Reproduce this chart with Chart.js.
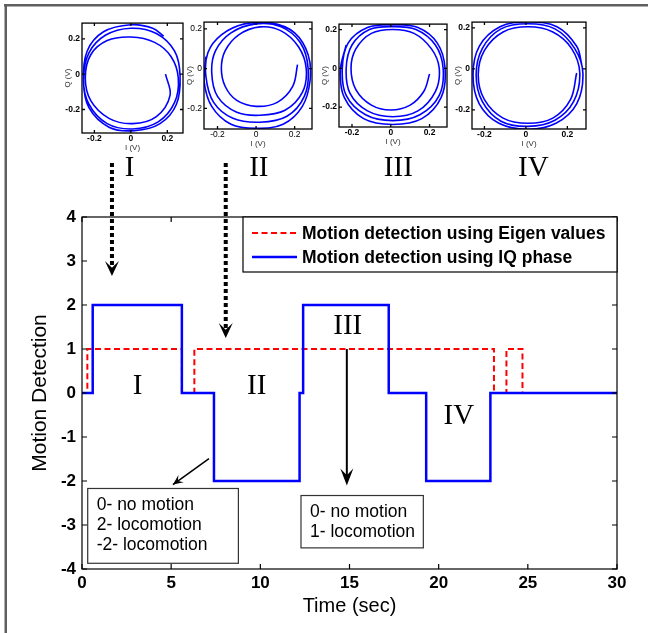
<!DOCTYPE html>
<html><head><meta charset="utf-8">
<script src="https://cdn.jsdelivr.net/npm/chart.js@4"></script>
<style>
html,body{margin:0;padding:0;background:#fff;}
#wrap{position:relative;width:648px;height:633px;overflow:hidden;background:#fff;}
#wrap canvas{position:absolute;}
</style></head><body>
<div id="wrap"><canvas id="main" width="648" height="633" style="left:0;top:0"></canvas></div>
<script>
Chart.defaults.font.family = '"Liberation Sans", Arial, Helvetica, sans-serif';
Chart.defaults.color = '#000';

// ---- main chart data ----
const timeTicks = [0, 5, 10, 15, 20, 25, 30];
const detectTicks = [-4, -3, -2, -1, 0, 1, 2, 3, 4];
const eigenTime  = [0, 0.3, 5.6, 6.3, 23.1, 23.8, 24.7, 30];
const eigenState = [0, 1,   0,   1,   0,    1,    0,    0];
const iqTime  = [0, 0.6, 5.6, 7.4, 12.2, 12.4, 17.2, 19.3, 22.9, 30];
const iqState = [0, 2,   0,  -2,   0,    2,    0,   -2,    0,    0];
const seriesNames = ['Motion detection using Eigen values', 'Motion detection using IQ phase'];
const stageNames = ['I', 'II', 'III', 'IV'];
const noteIQ = ['0- no motion', '2- locomotion', '-2- locomotion'];
const noteEigen = ['0- no motion', '1- locomotion'];

// ---- IQ constellation insets (I and Q in volts) ----
const iqAxisTicks = [-0.2, 0, 0.2];
const iRanges = [[-0.268, 0.286], [-0.27, 0.29], [-0.267, 0.29], [-0.26, 0.29]];
const qRanges = [[-0.333, 0.289], [-0.304, 0.234], [-0.303, 0.228], [-0.293, 0.228]];
const loopI1 = [0.19,0.215,0.14,0.01,-0.12,-0.22,-0.25,-0.22,-0.13,0.0,0.13,0.22,0.26,0.24,0.15,0.01,-0.13,-0.23,-0.26,-0.23,-0.14,0.0,0.14,0.24,0.27,0.25,0.16,0.02,-0.12,-0.23,-0.26,-0.24,-0.15,0.0,0.12,0.18];
const loopQ1 = [0.0,-0.12,-0.24,-0.28,-0.25,-0.15,-0.02,0.11,0.19,0.21,0.18,0.10,-0.02,-0.16,-0.27,-0.31,-0.28,-0.17,-0.03,0.12,0.22,0.26,0.23,0.13,-0.01,-0.17,-0.28,-0.32,-0.30,-0.19,-0.04,0.13,0.24,0.28,0.26,0.215];
const loopI2 = [0.215,0.19,0.11,0.0,-0.1,-0.16,-0.18,-0.16,-0.09,0.02,0.13,0.22,0.26,0.24,0.15,0.02,-0.1,-0.2,-0.23,-0.21,-0.13,0.0,0.13,0.23,0.27,0.25,0.16,0.02,-0.12,-0.22,-0.26,-0.25,-0.18,-0.06,0.08,0.2,0.27,0.28,0.24,0.14,0.0,-0.13,-0.23,-0.27,-0.26];
const loopQ2 = [0.02,-0.09,-0.17,-0.19,-0.16,-0.09,0.0,0.09,0.17,0.21,0.19,0.11,0.0,-0.12,-0.21,-0.235,-0.22,-0.14,-0.02,0.09,0.18,0.225,0.21,0.13,0.0,-0.14,-0.24,-0.27,-0.25,-0.17,-0.04,0.08,0.17,0.225,0.23,0.18,0.07,-0.06,-0.19,-0.28,-0.30,-0.28,-0.19,-0.06,0.06];
const loopI3 = [0.2,0.17,0.1,0.0,-0.1,-0.18,-0.205,-0.18,-0.1,0.01,0.12,0.21,0.25,0.23,0.14,0.01,-0.12,-0.21,-0.23,-0.2,-0.11,0.01,0.13,0.23,0.27,0.25,0.15,0.01,-0.13,-0.23,-0.25,-0.22,-0.12,0.01,0.14,0.24,0.28,0.26,0.16,0.01,-0.14,-0.24,-0.26,-0.23];
const loopQ3 = [-0.03,-0.12,-0.19,-0.215,-0.19,-0.11,0.0,0.1,0.18,0.2,0.18,0.1,0.0,-0.12,-0.22,-0.25,-0.22,-0.13,0.0,0.12,0.2,0.215,0.2,0.12,0.0,-0.14,-0.24,-0.27,-0.24,-0.14,0.0,0.13,0.21,0.225,0.21,0.13,0.0,-0.15,-0.26,-0.29,-0.26,-0.15,-0.01,0.12];
const loopI4 = [0.245,0.215,0.13,0.01,-0.11,-0.2,-0.23,-0.2,-0.11,0.01,0.13,0.22,0.26,0.23,0.14,0.01,-0.12,-0.21,-0.24,-0.21,-0.12,0.01,0.14,0.235,0.275,0.245,0.145,0.01,-0.13,-0.225,-0.255,-0.225,-0.125,0.01,0.15,0.245,0.27];
const loopQ4 = [-0.02,-0.15,-0.24,-0.265,-0.24,-0.15,-0.03,0.09,0.18,0.205,0.18,0.1,-0.02,-0.16,-0.25,-0.28,-0.255,-0.16,-0.03,0.1,0.195,0.22,0.195,0.1,-0.02,-0.17,-0.265,-0.295,-0.265,-0.17,-0.03,0.11,0.205,0.23,0.205,0.11,0.02];

const SANS = '"Liberation Sans", Arial, Helvetica, sans-serif';
const SERIF = '"Liberation Serif", "Times New Roman", Times, serif';

function arrowHead(c, x0, y0, x1, y1, len, half, notch) {
  const ang = Math.atan2(y1 - y0, x1 - x0), ca = Math.cos(ang), sa = Math.sin(ang);
  const bx = x1 - len * ca, by = y1 - len * sa;
  const nx = x1 - len * notch * ca, ny = y1 - len * notch * sa;
  c.beginPath();
  c.moveTo(x1, y1);
  c.lineTo(bx - half * sa, by + half * ca);
  c.lineTo(nx, ny);
  c.lineTo(bx + half * sa, by - half * ca);
  c.closePath();
  c.fill();
}

const figurePlugin = {
  id: 'figure',
  beforeDraw(chart) {
    const c = chart.ctx;
    c.save();
    c.fillStyle = '#fff';
    c.fillRect(0, 0, chart.width, chart.height);
    c.fillStyle = '#5f5f5f';
    c.fillRect(4, 4, chart.width - 4, 2.5);
    c.fillRect(4.5, 4, 2.5, chart.height - 4);
    c.restore();
  },
  afterDraw(chart) {
    const c = chart.ctx, a = chart.chartArea, xs = chart.scales.x, ys = chart.scales.y;
    const X = v => xs.getPixelForValue(v), Y = v => ys.getPixelForValue(v);
    c.save();
    // axes box + inward ticks
    c.strokeStyle = '#000'; c.lineWidth = 1.2;
    c.strokeRect(a.left, a.top, a.right - a.left, a.bottom - a.top);
    c.beginPath();
    timeTicks.forEach(v => { const p = X(v); c.moveTo(p, a.bottom); c.lineTo(p, a.bottom - 5); c.moveTo(p, a.top); c.lineTo(p, a.top + 5); });
    detectTicks.forEach(v => { const p = Y(v); c.moveTo(a.left, p); c.lineTo(a.left + 5, p); c.moveTo(a.right, p); c.lineTo(a.right - 5, p); });
    c.stroke();

    // legend
    const lw = 374, lh = 55, lx = a.right - lw, ly = a.top;
    c.fillStyle = '#fff'; c.fillRect(lx, ly, lw, lh);
    c.strokeStyle = '#000'; c.lineWidth = 1.2; c.strokeRect(lx, ly, lw, lh);
    c.font = 'bold 17.5px ' + SANS; c.textBaseline = 'middle'; c.textAlign = 'left';
    chart.data.datasets.forEach((ds, i) => {
      const yy = ly + 16 + i * 24;
      c.strokeStyle = ds.borderColor; c.lineWidth = ds.borderWidth; c.setLineDash(ds.borderDash || []);
      c.beginPath(); c.moveTo(lx + 9, yy); c.lineTo(lx + 54, yy); c.stroke();
      c.setLineDash([]);
      c.fillStyle = '#000';
      c.fillText(ds.label, lx + 59, yy + 1);
    });

    // stage numerals inside the plot
    c.fillStyle = '#000';
    c.font = '29px ' + SERIF; c.textAlign = 'center'; c.textBaseline = 'middle';
    const sx = [3.12, 9.8, 14.9, 21.13], sy = [0.15, 0.15, 1.52, -0.53];
    stageNames.forEach((s, i) => c.fillText(s, X(sx[i]), Y(sy[i])));
    // stage numerals under the insets
    const tx = [129.5, 258.8, 398.3, 533.3];
    stageNames.forEach((s, i) => c.fillText(s, tx[i], 168.5));

    // dotted arrows from the insets
    c.strokeStyle = '#000'; c.fillStyle = '#000';
    [[1.68, 2.66], [8.06, 1.25]].forEach(([xv, tipv]) => {
      const xp = X(xv), tip = Y(tipv);
      c.setLineDash([4, 3]); c.lineWidth = 4;
      c.beginPath(); c.moveTo(xp, 163); c.lineTo(xp, tip - 8); c.stroke();
      c.setLineDash([]);
      arrowHead(c, xp, 163, xp, tip, 15, 7, 0.55);
    });

    // solid arrows to notes
    c.lineWidth = 1.5;
    let x0 = X(7.12), y0 = Y(-1.49), x1 = X(5.1), y1 = Y(-2.08);
    c.beginPath(); c.moveTo(x0, y0); c.lineTo(x1, y1); c.stroke();
    arrowHead(c, x0, y0, x1, y1, 10, 4.5, 0.6);
    c.lineWidth = 2;
    x0 = X(14.85); y0 = Y(1.0); x1 = X(14.85); y1 = Y(-2.1);
    c.beginPath(); c.moveTo(x0, y0); c.lineTo(x1, y1 - 8); c.stroke();
    arrowHead(c, x0, y0, x1, y1, 17, 6.5, 0.6);

    // note boxes
    c.font = '17.5px ' + SANS; c.textAlign = 'left'; c.textBaseline = 'middle';
    const boxes = [[0.32, -2.17, 8.77, -3.87, noteIQ], [12.28, -2.33, 19.14, -3.52, noteEigen]];
    boxes.forEach(([bx0, by0, bx1, by1, lines]) => {
      const L = X(bx0), T = Y(by0), R = X(bx1), B = Y(by1);
      c.fillStyle = '#fff'; c.fillRect(L, T, R - L, B - T);
      c.strokeStyle = '#333'; c.lineWidth = 1.2; c.strokeRect(L, T, R - L, B - T);
      c.fillStyle = '#000';
      lines.forEach((t, i) => c.fillText(t, L + 9, T + 16.5 + i * 20));
    });
    c.restore();
  }
};

new Chart(document.getElementById('main'), {
  type: 'line',
  data: {
    datasets: [
      { label: seriesNames[0], data: eigenTime.map((t, i) => ({ x: t, y: eigenState[i] })),
        borderColor: '#ff0000', borderWidth: 2, borderDash: [6, 3.5], stepped: 'before',
        pointRadius: 0, fill: false, order: 1 },
      { label: seriesNames[1], data: iqTime.map((t, i) => ({ x: t, y: iqState[i] })),
        borderColor: '#0000ff', borderWidth: 2.5, stepped: 'before',
        pointRadius: 0, fill: false, order: 0 }
    ]
  },
  options: {
    responsive: false, animation: false, devicePixelRatio: 1,
    layout: { padding: { left: 0, top: 217, right: 31, bottom: 0 } },
    plugins: { legend: { display: false }, tooltip: { enabled: false } },
    scales: {
      x: {
        type: 'linear', min: 0, max: 30,
        afterBuildTicks: s => { s.ticks = timeTicks.map(v => ({ value: v })); },
        afterFit: s => { s.height = 64; },
        grid: { display: false, drawTicks: false }, border: { display: false },
        ticks: { font: { size: 17, weight: 'bold' }, color: '#000', padding: 4, maxRotation: 0, autoSkip: false },
        title: { display: true, text: 'Time (sec)', font: { size: 20 }, color: '#000', padding: { top: 0, bottom: 15 } }
      },
      y: {
        type: 'linear', min: -4, max: 4,
        afterBuildTicks: s => { s.ticks = detectTicks.map(v => ({ value: v })); },
        afterFit: s => { s.width = 82; },
        grid: { display: false, drawTicks: false }, border: { display: false },
        ticks: { font: { size: 17, weight: 'bold' }, color: '#000', padding: 6, autoSkip: false },
        title: { display: true, text: 'Motion Detection', font: { size: 21 }, color: '#000', padding: { top: 28, bottom: 0 } }
      }
    }
  },
  plugins: [figurePlugin]
});

// ---- insets ----
const miniFrame = {
  id: 'miniFrame',
  afterDraw(chart) {
    const c = chart.ctx, a = chart.chartArea, xs = chart.scales.x, ys = chart.scales.y;
    c.save(); c.strokeStyle = '#000'; c.lineWidth = 1.3;
    c.strokeRect(a.left, a.top, a.right - a.left, a.bottom - a.top);
    c.beginPath();
    iqAxisTicks.forEach(v => {
      const p = xs.getPixelForValue(v);
      c.moveTo(p, a.bottom); c.lineTo(p, a.bottom - 3); c.moveTo(p, a.top); c.lineTo(p, a.top + 3);
      const q = ys.getPixelForValue(v);
      c.moveTo(a.left, q); c.lineTo(a.left + 3, q); c.moveTo(a.right, q); c.lineTo(a.right - 3, q);
    });
    c.stroke(); c.restore();
  }
};

const insetBoxes = [[82, 20, 183, 133], [204, 19, 312, 129], [339, 21, 447, 127], [472, 19, 586, 129]];
const insetI = [loopI1, loopI2, loopI3, loopI4];
const insetQ = [loopQ1, loopQ2, loopQ3, loopQ4];
const insetBold = [true, false, true, true];
const wrap = document.getElementById('wrap');
insetBoxes.forEach((b, k) => {
  const [L, T, R, B] = b;
  const cv = document.createElement('canvas');
  cv.width = R - L + 30; cv.height = B - T + 28;
  cv.style.left = (L - 24) + 'px'; cv.style.top = (T - 4) + 'px';
  wrap.appendChild(cv);
  const w = insetBold[k] ? 'bold' : 'normal';
  new Chart(cv, {
    type: 'scatter',
    data: { datasets: [{ data: insetI[k].map((v, j) => ({ x: v, y: insetQ[k][j] })),
      showLine: true, pointRadius: 0, borderColor: '#0000ff', borderWidth: 1.6, tension: 0.36, fill: false }] },
    options: {
      responsive: false, animation: false, devicePixelRatio: 1,
      layout: { padding: { left: 0, top: 4, right: 6, bottom: 0 } },
      plugins: { legend: { display: false }, tooltip: { enabled: false } },
      scales: {
        x: {
          type: 'linear', min: iRanges[k][0], max: iRanges[k][1],
          afterBuildTicks: s => { s.ticks = iqAxisTicks.map(v => ({ value: v })); },
          afterFit: s => { s.height = 24; },
          grid: { display: false, drawTicks: false }, border: { display: false },
          ticks: { font: { size: 8.5, weight: w }, color: '#000', padding: 1, maxRotation: 0, autoSkip: false },
          title: { display: true, text: 'I (V)', font: { size: 8 }, color: '#333', padding: { top: 0, bottom: 4 } }
        },
        y: {
          type: 'linear', min: qRanges[k][0], max: qRanges[k][1],
          afterBuildTicks: s => { s.ticks = iqAxisTicks.map(v => ({ value: v })); },
          afterFit: s => { s.width = 24; },
          grid: { display: false, drawTicks: false }, border: { display: false },
          ticks: { font: { size: 8.5, weight: w }, color: '#000', padding: 2, autoSkip: false },
          title: { display: true, text: 'Q (V)', font: { size: 8 }, color: '#333', padding: { top: 5, bottom: 0 } }
        }
      }
    },
    plugins: [miniFrame]
  });
});
</script>
</body></html>
